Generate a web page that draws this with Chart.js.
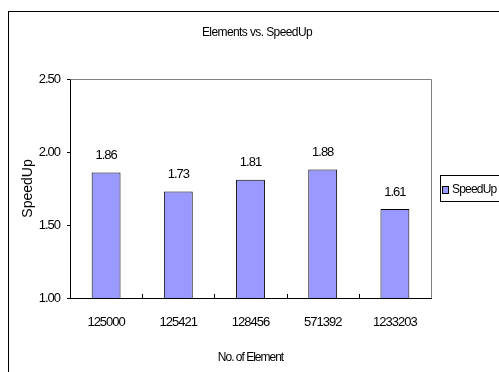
<!DOCTYPE html>
<html><head><meta charset="utf-8">
<script src="https://cdn.jsdelivr.net/npm/chart.js@4/dist/chart.umd.min.js"></script>
<style>html,body{margin:0;padding:0;background:#fff;overflow:hidden}canvas{display:block}</style>
</head><body>
<canvas id="c" width="499" height="372"></canvas>
<script>
const chartTitle = 'Elements vs. SpeedUp';
const categories = ['125000', '125421', '128456', '571392', '1233203'];
const seriesName = 'SpeedUp';
const speedUp = [1.86, 1.73, 1.81, 1.88, 1.61];
const yTickValues = [1.00, 1.50, 2.00, 2.50];
const xTitle = 'No. of Element';
const yTitle = 'SpeedUp';

const FONT = "'Liberation Sans',Arial,sans-serif";
const BAR = '#9999FF';

const decor = {
  id: 'decor',
  beforeDraw(chart) {
    const ctx = chart.ctx;
    ctx.save();
    ctx.fillStyle = '#fff';
    ctx.fillRect(0, 0, chart.width, chart.height);
    ctx.strokeStyle = '#000';
    ctx.lineWidth = 1;
    ctx.strokeRect(8.5, 11.5, chart.width + 20, chart.height + 20);
    ctx.restore();
    ctx.letterSpacing = '-1px';
  },
  afterDraw(chart) {
    const ctx = chart.ctx;
    const a = chart.chartArea;
    const xs = chart.scales.x;
    ctx.save();
    ctx.strokeStyle = '#808080';
    ctx.lineWidth = 1;
    ctx.beginPath();
    ctx.moveTo(Math.round(a.left) + 0.5, Math.round(a.top) + 0.5);
    ctx.lineTo(Math.round(a.right) + 0.5, Math.round(a.top) + 0.5);
    ctx.lineTo(Math.round(a.right) + 0.5, Math.round(a.bottom));
    ctx.stroke();
    ctx.strokeStyle = '#000';
    const n = categories.length;
    ctx.beginPath();
    for (let i = 1; i < n; i++) {
      const x = Math.round(xs.left + (xs.right - xs.left) * i / n) + 0.5;
      ctx.moveTo(x, a.bottom);
      ctx.lineTo(x, a.bottom - 4);
    }
    ctx.stroke();
    ctx.fillStyle = '#000';
    ctx.font = '13px ' + FONT;
    ctx.letterSpacing = '-1px';
    ctx.textAlign = 'center';
    ctx.textBaseline = 'middle';
    const meta = chart.getDatasetMeta(0);
    meta.data.forEach((bar, i) => {
      ctx.fillText(speedUp[i].toFixed(2), bar.x, bar.y - 17);
    });
    // chart title
    ctx.font = '12px ' + FONT;
    ctx.letterSpacing = '-0.6px';
    ctx.fillText(chartTitle, 257, 33);
    // y axis title (normal spacing)
    ctx.save();
    ctx.font = '14px ' + FONT;
    ctx.letterSpacing = '0px';
    ctx.translate(28, (a.top + a.bottom) / 2);
    ctx.rotate(-Math.PI / 2);
    ctx.fillText(yTitle, 0, 0);
    ctx.restore();
    // legend
    ctx.strokeStyle = '#000';
    ctx.strokeRect(440.5, 175.5, 80, 26);
    ctx.fillStyle = BAR;
    ctx.fillRect(442.5, 186.5, 6, 7);
    ctx.strokeRect(442.5, 186.5, 6, 7);
    ctx.fillStyle = '#000';
    ctx.textAlign = 'left';
    ctx.font = '12px ' + FONT;
    ctx.letterSpacing = '-0.8px';
    ctx.fillText(seriesName, 452, 190);
    ctx.restore();
  }
};

new Chart(document.getElementById('c'), {
  type: 'bar',
  data: {
    labels: categories,
    datasets: [{
      label: seriesName,
      data: speedUp,
      backgroundColor: BAR,
      borderColor: '#000',
      borderWidth: 1,
      borderSkipped: 'bottom',
      barPercentage: 0.4,
      categoryPercentage: 1.0
    }]
  },
  options: {
    responsive: false,
    animation: false,
    devicePixelRatio: 1,
    layout: { padding: { top: 79, right: 68, left: 0, bottom: 0 } },
    plugins: { legend: { display: false }, title: { display: false }, tooltip: { enabled: false } },
    scales: {
      x: {
        grid: { display: false, drawTicks: false, offset: true },
        border: { display: true, color: '#000', width: 1 },
        ticks: { color: '#000', font: { family: FONT, size: 13 }, padding: 17, maxRotation: 0, autoSkip: false },
        title: { display: true, text: xTitle, color: '#000', font: { family: FONT, size: 12 }, padding: { top: 0, bottom: 7 } },
        afterFit(s) { s.height = 74; }
      },
      y: {
        min: 1, max: 2.5,
        afterBuildTicks(s) { s.ticks = yTickValues.map(v => ({ value: v })); },
        grid: { display: true, drawOnChartArea: false, drawTicks: true, tickLength: 3, color: '#000' },
        border: { display: true, color: '#000', width: 1 },
        ticks: { color: '#000', font: { family: FONT, size: 13 }, padding: 7, callback: v => Number(v).toFixed(2) },
        title: { display: false, text: yTitle },
        afterFit(s) { s.width = 70; }
      }
    }
  },
  plugins: [decor]
});
</script>
</body></html>
